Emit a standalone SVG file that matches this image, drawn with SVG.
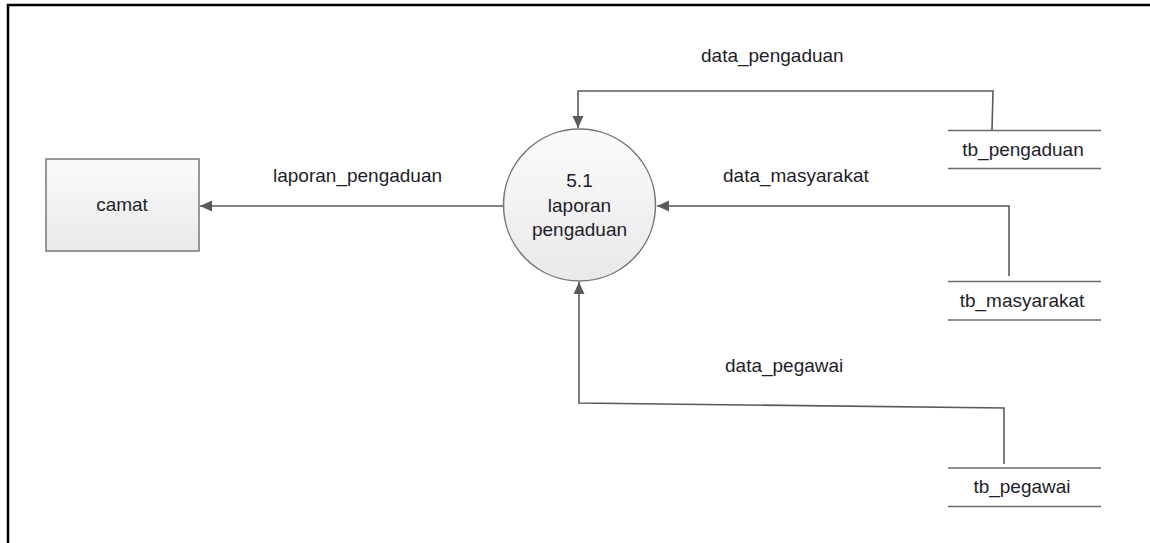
<svg xmlns="http://www.w3.org/2000/svg" width="1150" height="543" viewBox="0 0 1150 543">
  <style>
    .lbl { font-family: "Liberation Sans", Arial, sans-serif; font-size: 19px; fill: #1e1e2a; }
    .flow { fill: none; stroke: #5a5a5a; stroke-width: 1.6; marker-end: url(#arrow); }
    .store { stroke: #6a6a6a; stroke-width: 1.6; }
  </style>
  <defs>
    <linearGradient id="shade" x1="0" y1="0" x2="0" y2="1">
      <stop offset="0" stop-color="#fbfbfb"/>
      <stop offset="1" stop-color="#e9e9e9"/>
    </linearGradient>
    <marker id="arrow" markerUnits="userSpaceOnUse" markerWidth="14" markerHeight="12" refX="12" refY="5.5" orient="auto">
      <path d="M0,0 L12,5.5 L0,11 Z" fill="#5a5a5a"/>
    </marker>
  </defs>

  <!-- page frame -->
  <rect x="8" y="5" width="1160" height="560" fill="#ffffff" stroke="#000000" stroke-width="2.5"/>

  <!-- connectors -->
  <g id="connectors">
    <path class="flow" d="M503,206 L200,206"/>
    <path class="flow" d="M992,130 L993,91 L578,91 L578,128"/>
    <path class="flow" d="M1009,276 L1009,206 L657,206"/>
    <path class="flow" d="M1004,464 L1004,408 L579,403 L579,282"/>
    <text class="lbl" x="273" y="182">laporan_pengaduan</text>
    <text class="lbl" x="701" y="62">data_pengaduan</text>
    <text class="lbl" x="723" y="182">data_masyarakat</text>
    <text class="lbl" x="725" y="372">data_pegawai</text>
  </g>

  <!-- external entity -->
  <g id="camat">
    <rect x="46" y="159" width="153" height="92" fill="url(#shade)" stroke="#777777" stroke-width="1.5"/>
    <text class="lbl" x="122" y="211" text-anchor="middle">camat</text>
  </g>

  <!-- process -->
  <g id="proses-5-1">
    <circle cx="579.5" cy="205" r="76" fill="url(#shade)" stroke="#777777" stroke-width="1.5"/>
    <text class="lbl" x="579.5" y="187" text-anchor="middle">5.1</text>
    <text class="lbl" x="579.5" y="212" text-anchor="middle">laporan</text>
    <text class="lbl" x="579.5" y="236" text-anchor="middle">pengaduan</text>
  </g>

  <!-- data stores -->
  <g id="tb_pengaduan">
    <line class="store" x1="948" y1="130.5" x2="1101" y2="130.5"/>
    <line class="store" x1="948" y1="168.5" x2="1101" y2="168.5"/>
    <text class="lbl" x="1023" y="156" text-anchor="middle">tb_pengaduan</text>
  </g>
  <g id="tb_masyarakat">
    <line class="store" x1="948" y1="281.5" x2="1101" y2="281.5"/>
    <line class="store" x1="948" y1="320" x2="1101" y2="320"/>
    <text class="lbl" x="1022" y="307" text-anchor="middle">tb_masyarakat</text>
  </g>
  <g id="tb_pegawai">
    <line class="store" x1="948" y1="468" x2="1101" y2="468"/>
    <line class="store" x1="948" y1="506.5" x2="1101" y2="506.5"/>
    <text class="lbl" x="1022" y="493" text-anchor="middle">tb_pegawai</text>
  </g>
</svg>
